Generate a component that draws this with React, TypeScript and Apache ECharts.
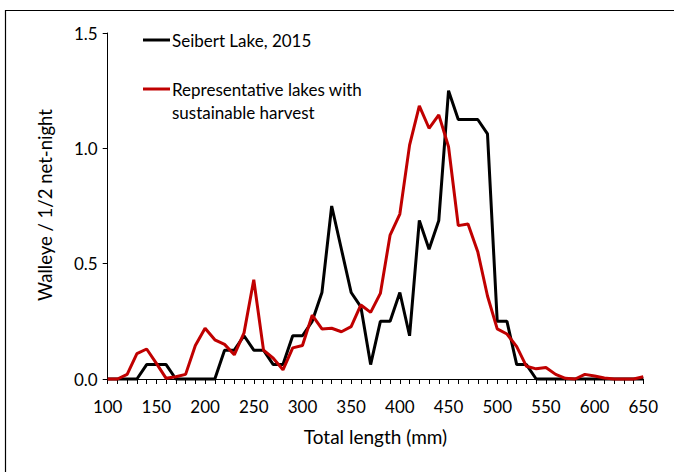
import React, { useEffect, useRef } from "react";
import * as echarts from "echarts";

const lengths = [
  100, 110, 120, 130, 140, 150, 160, 170, 180, 190,
  200, 210, 220, 230, 240, 250, 260, 270, 280, 290,
  300, 310, 320, 330, 340, 350, 360, 370, 380, 390,
  400, 410, 420, 430, 440, 450, 460, 470, 480, 490,
  500, 510, 520, 530, 540, 550, 560, 570, 580, 590,
  600, 610, 620, 630, 640, 650,
];

const seibert = [
  0, 0, 0, 0, 0.0625, 0.0625, 0.0625, 0, 0, 0,
  0, 0, 0.125, 0.125, 0.1875, 0.125, 0.125, 0.0625, 0.0625, 0.1875,
  0.1875, 0.25, 0.375, 0.75, 0.5625, 0.375, 0.3125, 0.0625, 0.25, 0.25,
  0.375, 0.1875, 0.6875, 0.5625, 0.6875, 1.25, 1.125, 1.125, 1.125, 1.0625,
  0.25, 0.25, 0.0625, 0.0625, 0, 0, 0, 0, 0, 0,
  0, 0, 0, 0, 0, 0,
];

const representative = [
  0, 0, 0.02, 0.11, 0.13, 0.068, 0.003, 0.01, 0.02, 0.145,
  0.22, 0.17, 0.15, 0.105, 0.2, 0.43, 0.125, 0.09, 0.04, 0.135,
  0.145, 0.277, 0.217, 0.22, 0.205, 0.227, 0.321, 0.289, 0.371, 0.624,
  0.715, 1.014, 1.184, 1.087, 1.145, 1.007, 0.665, 0.672, 0.552, 0.36,
  0.217, 0.195, 0.14, 0.055, 0.044, 0.05, 0.02, 0.003, 0, 0.02,
  0.013, 0.004, 0, 0, 0, 0.01,
];

const seriesNames = ["Seibert Lake, 2015", "Representative lakes with sustainable harvest"];
const legendLines = [["Seibert Lake, 2015"], ["Representative lakes with", "sustainable harvest"]];
const xTitle = "Total length (mm)";
const yTitle = "Walleye / 1/2 net-night";

const FONT = "Lato, 'Open Sans', sans-serif";
const BLACK = "#000000";
const RED = "#C00000";

export default function App() {
  const ref = useRef<HTMLDivElement>(null);

  useEffect(() => {
    if (!ref.current) return;
    const chart = echarts.init(ref.current, undefined, { renderer: "svg" });
    const axisLineStyle = { color: "#000", width: 1 };
    chart.setOption({
      animation: false,
      backgroundColor: "#ffffff",
      textStyle: { fontFamily: FONT },
      grid: { left: 107.7, right: 30.7, top: 33, bottom: 93, containLabel: false },
      xAxis: {
        type: "value",
        min: 100,
        max: 650,
        interval: 50,
        axisLine: { show: true, onZero: false, lineStyle: axisLineStyle },
        axisTick: { show: true, inside: false, length: 5, lineStyle: axisLineStyle },
        minorTick: { show: true, splitNumber: 5, length: 5, lineStyle: axisLineStyle },
        splitLine: { show: false },
        axisLabel: { fontSize: 17, color: "#000", margin: 19, fontFamily: FONT },
        name: xTitle,
        nameLocation: "middle",
        nameGap: 48,
        nameTextStyle: { fontSize: 19, color: "#000", fontFamily: FONT },
      },
      yAxis: {
        type: "value",
        min: 0,
        max: 1.5,
        interval: 0.5,
        axisLine: { show: true, lineStyle: axisLineStyle },
        axisTick: { show: true, inside: false, length: 5, lineStyle: axisLineStyle },
        splitLine: { show: false },
        axisLabel: {
          fontSize: 17,
          color: "#000",
          margin: 10,
          fontFamily: FONT,
          formatter: (v: number) => v.toFixed(1),
        },
      },
      series: [
        {
          name: seriesNames[0],
          type: "line",
          data: lengths.map((x, i) => [x, seibert[i]]),
          showSymbol: false,
          symbol: "none",
          clip: false,
          lineStyle: { color: BLACK, width: 3 },
          itemStyle: { color: BLACK },
          z: 3,
        },
        {
          name: seriesNames[1],
          type: "line",
          data: lengths.map((x, i) => [x, representative[i]]),
          showSymbol: false,
          symbol: "none",
          clip: false,
          lineStyle: { color: RED, width: 3 },
          itemStyle: { color: RED },
          z: 4,
        },
      ],
      graphic: [
        {
          type: "rect",
          shape: { x: 5.5, y: 10.5, width: 720, height: 520 },
          style: { fill: "none", stroke: "#000", lineWidth: 1.2 },
          silent: true,
        },
        {
          type: "text",
          x: 45,
          y: 205,
          rotation: Math.PI / 2,
          style: {
            text: yTitle,
            fontSize: 18.5,
            fontFamily: FONT,
            fill: "#000",
            align: "center",
            verticalAlign: "middle",
            textAlign: "center",
            textVerticalAlign: "middle",
          },
        },
        {
          type: "line",
          shape: { x1: 143, y1: 40, x2: 170, y2: 40 },
          style: { stroke: BLACK, lineWidth: 3 },
        },
        {
          type: "text",
          x: 172,
          y: 40,
          style: {
            text: legendLines[0][0],
            fontSize: 17,
            fontFamily: FONT,
            fill: "#000",
            verticalAlign: "middle",
            textVerticalAlign: "middle",
          },
        },
        {
          type: "line",
          shape: { x1: 143, y1: 89, x2: 170, y2: 89 },
          style: { stroke: RED, lineWidth: 3 },
        },
        {
          type: "text",
          x: 172,
          y: 89,
          style: {
            text: legendLines[1][0],
            fontSize: 17,
            fontFamily: FONT,
            fill: "#000",
            verticalAlign: "middle",
            textVerticalAlign: "middle",
          },
        },
        {
          type: "text",
          x: 172,
          y: 112,
          style: {
            text: legendLines[1][1],
            fontSize: 17,
            fontFamily: FONT,
            fill: "#000",
            verticalAlign: "middle",
            textVerticalAlign: "middle",
          },
        },
      ],
    });
    return () => chart.dispose();
  }, []);

  return (
    <div
      ref={ref}
      style={{ position: "fixed", left: 0, top: 0, width: 674, height: 472, background: "#fff" }}
    />
  );
}
